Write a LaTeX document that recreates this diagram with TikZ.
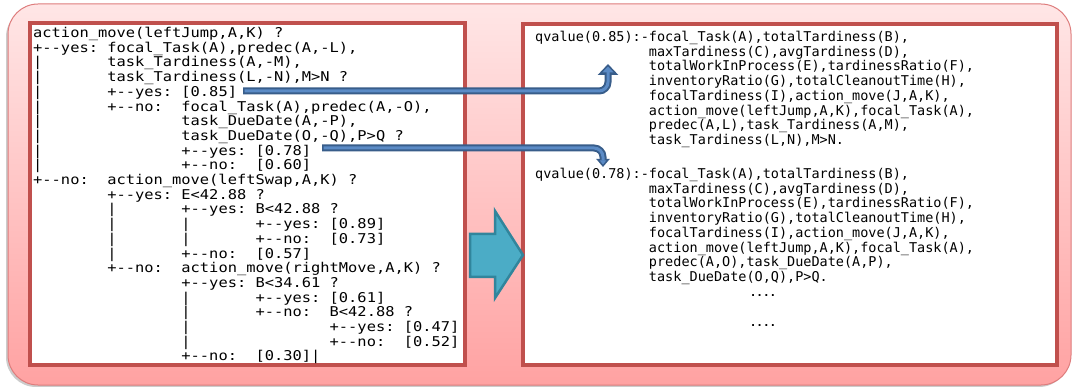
\documentclass[tikz,border=0pt]{standalone}
\usepackage{fontspec}
\usetikzlibrary{arrows.meta}

\newfontfamily\treefont[FakeStretch=1.14]{DejaVu Sans Mono}
\newfontfamily\rulefont{DejaVu Sans Mono}

\definecolor{paneltop}{HTML}{FFE6E6}
\definecolor{panelbot}{HTML}{FFA2A2}
\definecolor{paneledge}{HTML}{DE7C7C}
\definecolor{boxedge}{HTML}{C0504D}
\definecolor{linkdark}{HTML}{385D8A}
\definecolor{linklight}{HTML}{5B8BC6}
\definecolor{bigfill}{HTML}{4BACC6}
\definecolor{bigedge}{HTML}{31859C}

\newcommand\ind[1]{\hspace*{#1\fontcharwd\font`0}}
\newcommand\yes{+-\kern0pt-yes:\ind{1}}
\newcommand\no{+-\kern0pt-no:\ind{2}}
\newcommand\qm{\ind{1}?}

\tikzset{
  panel/.style={draw=paneledge, line width=1pt, top color=paneltop, bottom color=panelbot, rounded corners=30pt},
  codebox/.style={draw=boxedge, line width=4pt, fill=white},
  code/.style={inner sep=0pt, align=left, anchor=north west},
  link/.style={draw=linkdark, line width=7pt, rounded corners=9pt},
  linkin/.style={draw=linklight, line width=3pt, rounded corners=9pt, shorten <=1.5pt, shorten >=2.5pt},
  bigarrow/.style={draw=bigedge, line width=2.5pt, fill=bigfill, line join=miter}
}

\begin{document}
\begin{tikzpicture}[x=1pt,y=-1pt]
  \useasboundingbox (0,0) rectangle (1073,387);

  \fill[black!20, rounded corners=30pt] (6,7) rectangle (1069,387);
  \path[panel] (8,4) rectangle (1071,385);

  \draw[codebox] (30,23) rectangle (465,365);
  \draw[codebox] (523,24) rectangle (1057,365);

  \node[code, font={\treefont\fontsize{13.5}{14.7}\selectfont}] (tree) at (33,27) {%
    action\_move(leftJump,A,K)\qm\\
    \yes focal\_Task(A),predec(A,-L),\\
    |\ind{7}task\_Tardiness(A,-M),\\
    |\ind{7}task\_Tardiness(L,-N),M>N\qm\\
    |\ind{7}\yes [0.85]\\
    |\ind{7}\no focal\_Task(A),predec(A,-O),\\
    |\ind{15}task\_DueDate(A,-P),\\
    |\ind{15}task\_DueDate(O,-Q),P>Q\qm\\
    |\ind{15}\yes [0.78]\\
    |\ind{15}\no [0.60]\\
    \no action\_move(leftSwap,A,K)\qm\\
    \ind{8}\yes E<42.88\qm\\
    \ind{8}|\ind{7}\yes B<42.88\qm\\
    \ind{8}|\ind{7}|\ind{7}\yes [0.89]\\
    \ind{8}|\ind{7}|\ind{7}\no [0.73]\\
    \ind{8}|\ind{7}\no [0.57]\\
    \ind{8}\no action\_move(rightMove,A,K)\qm\\
    \ind{16}\yes B<34.61\qm\\
    \ind{16}|\ind{7}\yes [0.61]\\
    \ind{16}|\ind{7}\no B<42.88\qm\\
    \ind{16}|\ind{15}\yes [0.47]\\
    \ind{16}|\ind{15}\no [0.52]\\
    \ind{16}\no [0.30]|};

  \node[code, font={\rulefont\fontsize{13.5}{14.7}\selectfont}] (q85) at (535,31) {%
    qvalue(0.85):-focal\_Task(A),totalTardiness(B),\\
    \ind{14}maxTardiness(C),avgTardiness(D),\\
    \ind{14}totalWorkInProcess(E),tardinessRatio(F),\\
    \ind{14}inventoryRatio(G),totalCleanoutTime(H),\\
    \ind{14}focalTardiness(I),action\_move(J,A,K),\\
    \ind{14}action\_move(leftJump,A,K),focal\_Task(A),\\
    \ind{14}predec(A,L),task\_Tardiness(A,M),\\
    \ind{14}task\_Tardiness(L,N),M>N.};

  \node[code, font={\rulefont\fontsize{13.5}{14.7}\selectfont}] (q78) at (535,168) {%
    qvalue(0.78):-focal\_Task(A),totalTardiness(B),\\
    \ind{14}maxTardiness(C),avgTardiness(D),\\
    \ind{14}totalWorkInProcess(E),tardinessRatio(F),\\
    \ind{14}inventoryRatio(G),totalCleanoutTime(H),\\
    \ind{14}focalTardiness(I),action\_move(J,A,K),\\
    \ind{14}action\_move(leftJump,A,K),focal\_Task(A),\\
    \ind{14}predec(A,O),task\_DueDate(A,P),\\
    \ind{14}task\_DueDate(O,Q),P>Q.};

  \node[font={\rulefont\bfseries\fontsize{11}{12}\selectfont}] (dots1) at (763,296) {....};
  \node[font={\rulefont\bfseries\fontsize{11}{12}\selectfont}] (dots2) at (763,326) {....};

  \draw[bigarrow] (470,234) -- (495,234) -- (495,211) -- (523,255) -- (495,298) -- (495,277) -- (470,277) -- cycle;

  \coordinate (t85) at (243,91);
  \coordinate (h85) at (608,64);
  \coordinate (t78) at (322,148);
  \coordinate (h78) at (603,167);

  \draw[link, -{Triangle[width=20pt,length=11pt]}] (t85) -| (h85);
  \draw[linkin, -{Triangle[width=11pt,length=6pt]}] (t85) -| (h85);
  \draw[link, -{Triangle[width=13pt,length=8pt]}] (t78) -| (h78);
  \draw[linkin, -{Triangle[width=6pt,length=4pt]}] (t78) -| (h78);
\end{tikzpicture}
\end{document}
